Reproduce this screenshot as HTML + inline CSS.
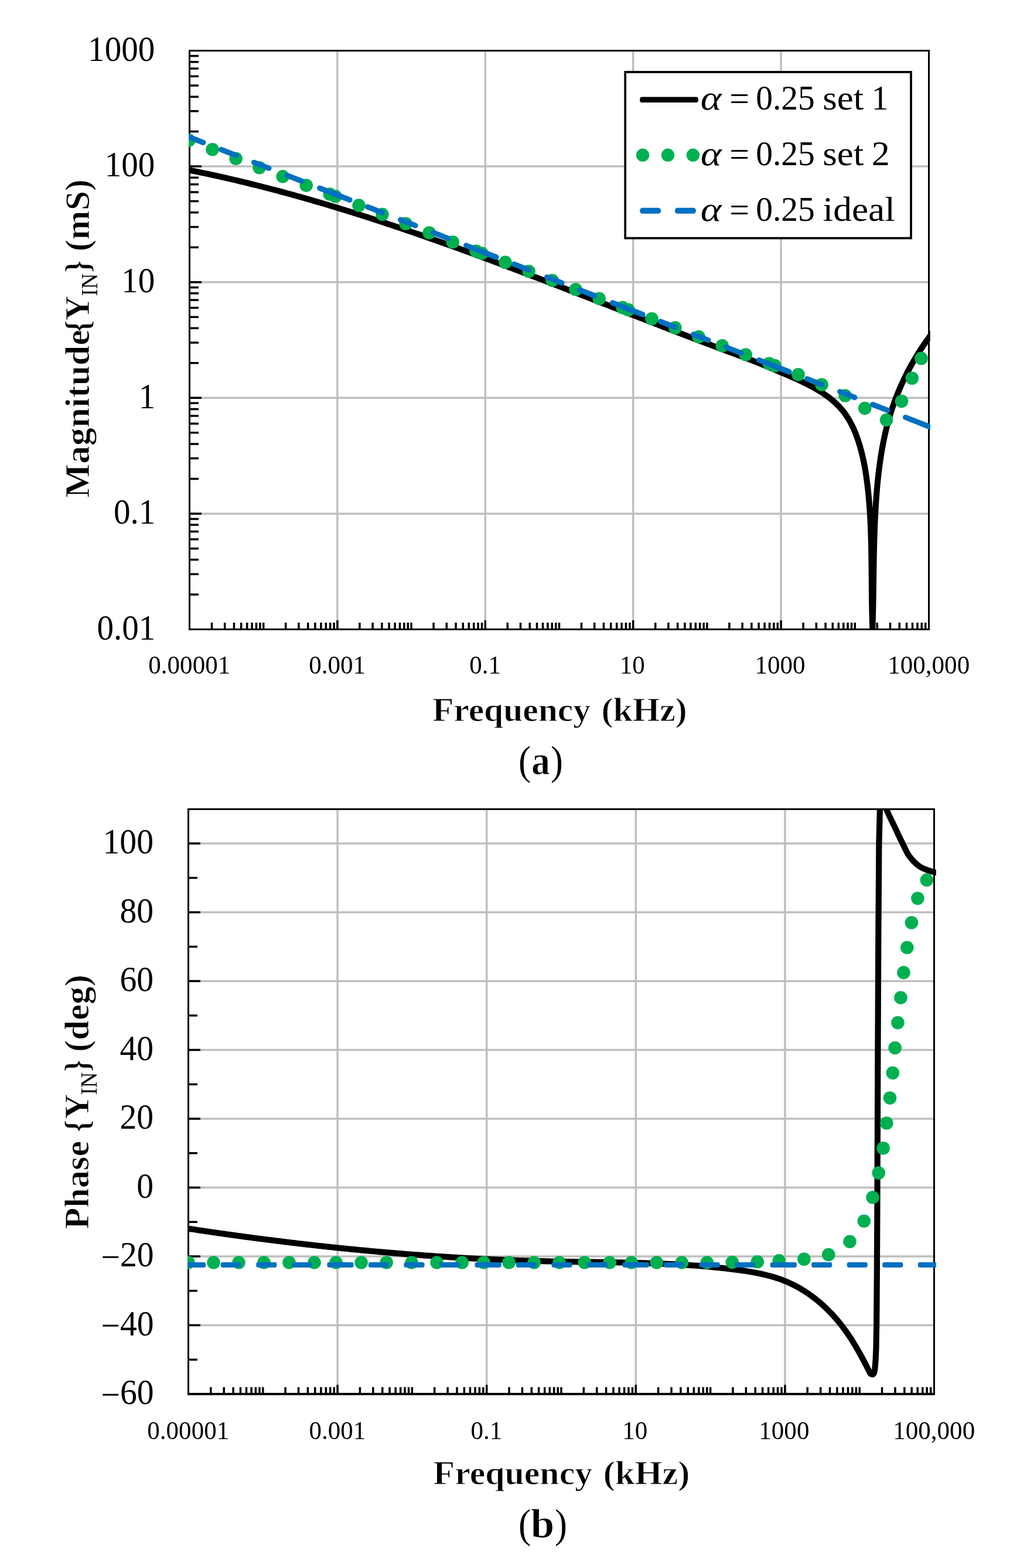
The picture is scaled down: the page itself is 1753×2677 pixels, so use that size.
<!DOCTYPE html>
<html lang="en"><head><meta charset="utf-8"><title>Magnitude and phase of Y_IN versus frequency</title>
<style>html,body{margin:0;padding:0;background:#fff}body{width:1753px;height:2677px;overflow:hidden}svg{display:block;font-family:"Liberation Serif","DejaVu Serif",serif;fill:#000}</style>
</head><body>
<svg width="1753" height="2677" viewBox="0 0 1753 2677">
<rect width="1753" height="2677" fill="#fff"/>
<defs><clipPath id="c1"><rect x="322" y="85" width="1265.8" height="991"/></clipPath>
<clipPath id="c2"><rect x="320" y="1380" width="1277.8" height="1002"/></clipPath></defs>
<g id="plot-a">
<path d="M323.5 284.1H1585.5M323.5 481.7H1585.5M323.5 679.3H1585.5M323.5 876.9H1585.5M575.9 86.5V1074.5M828.3 86.5V1074.5M1080.7 86.5V1074.5M1333.1 86.5V1074.5" stroke="#bfbfbf" stroke-width="3.5" fill="none"/>
<path d="M325 224.62H339M325 189.82H339M325 165.13H339M325 145.98H339M325 130.34H339M325 117.11H339M325 105.65H339M325 95.54H339M325 284.1H344M325 422.22H339M325 387.42H339M325 362.73H339M325 343.58H339M325 327.94H339M325 314.71H339M325 303.25H339M325 293.14H339M325 481.7H344M325 619.82H339M325 585.02H339M325 560.33H339M325 541.18H339M325 525.54H339M325 512.31H339M325 500.85H339M325 490.74H339M325 679.3H344M325 817.42H339M325 782.62H339M325 757.93H339M325 738.78H339M325 723.14H339M325 709.91H339M325 698.45H339M325 688.34H339M325 876.9H344M325 1015.02H339M325 980.22H339M325 955.53H339M325 936.38H339M325 920.74H339M325 907.51H339M325 896.05H339M325 885.94H339M361.49 1073V1063M383.71 1073V1063M399.48 1073V1063M411.71 1073V1063M421.7 1073V1063M430.15 1073V1063M437.47 1073V1063M443.93 1073V1063M449.7 1073V1063M487.69 1073V1063M509.91 1073V1063M525.68 1073V1063M537.91 1073V1063M547.9 1073V1063M556.35 1073V1063M563.67 1073V1063M570.13 1073V1063M575.9 1073V1059M613.89 1073V1063M636.11 1073V1063M651.88 1073V1063M664.11 1073V1063M674.1 1073V1063M682.55 1073V1063M689.87 1073V1063M696.33 1073V1063M702.1 1073V1063M740.09 1073V1063M762.31 1073V1063M778.08 1073V1063M790.31 1073V1063M800.3 1073V1063M808.75 1073V1063M816.07 1073V1063M822.53 1073V1063M828.3 1073V1059M866.29 1073V1063M888.51 1073V1063M904.28 1073V1063M916.51 1073V1063M926.5 1073V1063M934.95 1073V1063M942.27 1073V1063M948.73 1073V1063M954.5 1073V1063M992.49 1073V1063M1014.71 1073V1063M1030.48 1073V1063M1042.71 1073V1063M1052.7 1073V1063M1061.15 1073V1063M1068.47 1073V1063M1074.93 1073V1063M1080.7 1073V1059M1118.69 1073V1063M1140.91 1073V1063M1156.68 1073V1063M1168.91 1073V1063M1178.9 1073V1063M1187.35 1073V1063M1194.67 1073V1063M1201.13 1073V1063M1206.9 1073V1063M1244.89 1073V1063M1267.11 1073V1063M1282.88 1073V1063M1295.11 1073V1063M1305.1 1073V1063M1313.55 1073V1063M1320.87 1073V1063M1327.33 1073V1063M1333.1 1073V1059M1371.09 1073V1063M1393.31 1073V1063M1409.08 1073V1063M1421.31 1073V1063M1431.3 1073V1063M1439.75 1073V1063M1447.07 1073V1063M1453.53 1073V1063M1459.3 1073V1063M1497.29 1073V1063M1519.51 1073V1063M1535.28 1073V1063M1547.51 1073V1063M1557.5 1073V1063M1565.95 1073V1063M1573.27 1073V1063M1579.73 1073V1063" stroke="#000" stroke-width="3.5" fill="none"/>
<rect x="323.5" y="86.5" width="1262" height="988" fill="none" stroke="#000" stroke-width="3"/>
<g clip-path="url(#c1)" fill="none">
<path d="M299.75 285.95 L302.72 286.51 L305.69 287.07 L308.65 287.64 L311.62 288.21 L314.59 288.79 L317.55 289.36 L320.51 289.95 L323.47 290.53 L326.43 291.13 L329.39 291.72 L332.35 292.32 L335.31 292.92 L338.26 293.53 L341.22 294.14 L344.17 294.76 L347.12 295.37 L350.07 296 L353.02 296.62 L355.97 297.25 L358.92 297.89 L361.86 298.52 L364.81 299.17 L367.75 299.81 L370.7 300.46 L373.64 301.11 L376.58 301.77 L379.52 302.43 L382.46 303.09 L385.39 303.76 L388.33 304.43 L391.27 305.11 L394.2 305.79 L397.13 306.47 L400.07 307.15 L403 307.84 L405.93 308.54 L408.86 309.23 L411.78 309.93 L414.71 310.64 L417.64 311.34 L420.56 312.05 L423.48 312.77 L426.41 313.48 L429.33 314.21 L432.25 314.93 L435.17 315.66 L438.09 316.39 L441 317.12 L443.92 317.86 L446.84 318.6 L449.75 319.35 L452.66 320.09 L455.58 320.84 L458.49 321.6 L461.4 322.36 L464.31 323.12 L467.22 323.88 L470.12 324.65 L473.03 325.42 L475.94 326.19 L478.84 326.97 L481.75 327.75 L484.65 328.53 L487.55 329.32 L490.45 330.11 L493.35 330.9 L496.25 331.69 L499.15 332.49 L502.05 333.29 L504.94 334.1 L507.84 334.91 L510.73 335.72 L513.63 336.53 L516.52 337.35 L519.41 338.17 L522.3 338.99 L525.19 339.81 L528.08 340.64 L530.97 341.47 L533.86 342.31 L536.74 343.14 L539.63 343.98 L542.52 344.83 L545.4 345.67 L548.28 346.52 L551.16 347.37 L554.05 348.22 L556.93 349.08 L559.81 349.94 L562.69 350.8 L565.56 351.66 L568.44 352.53 L571.32 353.4 L574.19 354.27 L577.07 355.15 L579.94 356.03 L582.82 356.91 L585.69 357.79 L588.56 358.68 L591.43 359.56 L594.3 360.45 L597.17 361.35 L600.04 362.24 L602.91 363.14 L605.78 364.04 L608.64 364.94 L611.51 365.85 L614.37 366.76 L617.24 367.67 L620.1 368.58 L622.96 369.49 L625.83 370.41 L628.69 371.33 L631.55 372.25 L634.41 373.18 L637.27 374.1 L640.13 375.03 L642.98 375.97 L645.84 376.9 L648.7 377.83 L651.55 378.77 L654.41 379.71 L657.26 380.65 L660.12 381.6 L662.97 382.55 L665.82 383.49 L668.67 384.45 L671.53 385.4 L674.38 386.35 L677.23 387.31 L680.08 388.27 L682.92 389.23 L685.77 390.19 L688.62 391.16 L691.47 392.13 L694.31 393.1 L697.16 394.07 L700 395.04 L702.85 396.02 L705.69 396.99 L708.53 397.97 L711.37 398.95 L714.22 399.94 L717.06 400.92 L719.9 401.91 L722.74 402.9 L725.58 403.89 L728.42 404.88 L731.26 405.87 L734.09 406.87 L736.93 407.87 L739.77 408.86 L742.6 409.86 L745.44 410.87 L748.27 411.87 L751.11 412.88 L753.94 413.88 L756.78 414.89 L759.61 415.9 L762.44 416.92 L765.27 417.93 L768.11 418.95 L770.94 419.96 L773.77 420.98 L776.6 422 L779.43 423.02 L782.26 424.05 L785.08 425.07 L787.91 426.1 L790.74 427.12 L793.57 428.15 L796.39 429.18 L799.22 430.22 L802.05 431.25 L804.87 432.28 L807.7 433.32 L810.52 434.36 L813.34 435.39 L816.17 436.43 L818.99 437.48 L821.81 438.52 L824.64 439.56 L827.46 440.61 L830.28 441.65 L833.1 442.7 L835.92 443.75 L838.74 444.8 L841.56 445.85 L844.38 446.9 L847.2 447.95 L850.02 449.01 L852.84 450.06 L855.66 451.12 L858.47 452.18 L861.29 453.24 L864.11 454.3 L866.93 455.36 L869.74 456.42 L872.56 457.48 L875.37 458.55 L878.19 459.61 L881 460.68 L883.82 461.74 L886.63 462.81 L889.45 463.88 L892.26 464.95 L895.07 466.02 L897.89 467.09 L900.7 468.16 L903.51 469.23 L906.32 470.31 L909.14 471.38 L911.95 472.45 L914.76 473.53 L917.57 474.61 L920.38 475.68 L923.19 476.76 L926 477.84 L928.81 478.92 L931.62 480 L934.43 481.08 L937.24 482.16 L940.05 483.24 L942.86 484.33 L945.67 485.41 L948.48 486.49 L951.29 487.58 L954.09 488.66 L956.9 489.75 L959.71 490.83 L962.52 491.92 L965.32 493 L968.13 494.09 L970.94 495.18 L973.74 496.27 L976.55 497.35 L979.36 498.44 L982.16 499.53 L984.97 500.62 L987.78 501.71 L990.58 502.8 L993.39 503.89 L996.19 504.98 L999 506.07 L1001.8 507.17 L1004.61 508.26 L1007.41 509.35 L1010.22 510.44 L1013.02 511.53 L1015.83 512.63 L1018.63 513.72 L1021.44 514.81 L1024.24 515.9 L1027.04 517 L1029.85 518.09 L1032.65 519.18 L1035.46 520.28 L1038.26 521.37 L1041.06 522.46 L1043.87 523.56 L1046.67 524.65 L1049.48 525.74 L1052.28 526.84 L1055.08 527.93 L1057.89 529.02 L1060.69 530.12 L1063.49 531.21 L1066.3 532.3 L1069.1 533.4 L1071.9 534.49 L1074.71 535.58 L1077.51 536.68 L1080.31 537.77 L1083.12 538.86 L1085.92 539.95 L1088.72 541.04 L1091.52 542.14 L1094.33 543.23 L1097.13 544.32 L1099.93 545.41 L1102.74 546.5 L1105.54 547.59 L1108.34 548.68 L1111.15 549.77 L1113.95 550.86 L1116.76 551.95 L1119.56 553.03 L1122.36 554.12 L1125.17 555.21 L1127.97 556.3 L1130.77 557.38 L1133.58 558.47 L1136.38 559.56 L1139.19 560.64 L1141.99 561.73 L1144.79 562.81 L1147.6 563.89 L1150.4 564.98 L1153.21 566.06 L1156.01 567.14 L1158.82 568.22 L1161.62 569.3 L1164.43 570.38 L1167.23 571.46 L1170.04 572.54 L1172.84 573.62 L1175.65 574.69 L1178.46 575.77 L1181.26 576.84 L1184.07 577.92 L1186.88 578.99 L1189.69 580.06 L1192.5 581.13 L1195.3 582.2 L1198.11 583.27 L1200.92 584.33 L1203.73 585.4 L1206.55 586.46 L1209.36 587.53 L1212.17 588.59 L1214.98 589.65 L1217.8 590.71 L1220.61 591.77 L1223.43 592.82 L1226.24 593.88 L1229.06 594.93 L1231.88 595.98 L1234.69 597.03 L1237.51 598.08 L1240.33 599.13 L1243.15 600.17 L1245.97 601.21 L1248.8 602.25 L1251.62 603.29 L1254.44 604.33 L1257.27 605.37 L1260.09 606.41 L1262.91 607.45 L1265.73 608.49 L1268.55 609.53 L1271.36 610.58 L1274.17 611.63 L1276.97 612.68 L1279.76 613.75 L1282.55 614.82 L1285.33 615.9 L1288.1 616.98 L1290.87 618.08 L1293.63 619.18 L1296.38 620.29 L1299.12 621.41 L1301.87 622.54 L1304.61 623.67 L1307.35 624.81 L1310.09 625.95 L1312.83 627.11 L1315.57 628.26 L1318.32 629.42 L1321.07 630.59 L1323.82 631.76 L1326.58 632.93 L1329.35 634.11 L1332.12 635.29 L1334.91 636.48 L1337.7 637.67 L1340.5 638.86 L1343.3 640.06 L1346.1 641.27 L1348.91 642.48 L1351.72 643.71 L1354.52 644.94 L1357.33 646.19 L1360.13 647.45 L1362.92 648.73 L1365.71 650.02 L1368.49 651.33 L1371.25 652.65 L1374.01 653.99 L1376.75 655.35 L1379.48 656.74 L1382.19 658.14 L1384.89 659.57 L1387.56 661.02 L1390.22 662.5 L1392.85 664 L1395.46 665.53 L1398.04 667.09 L1400.6 668.68 L1403.13 670.3 L1405.63 671.95 L1408.09 673.63 L1410.53 675.35 L1412.93 677.1 L1415.3 678.89 L1417.63 680.72 L1419.92 682.59 L1422.17 684.49 L1424.38 686.44 L1426.54 688.43 L1428.66 690.46 L1430.74 692.53 L1432.77 694.65 L1434.75 696.82 L1436.67 699.04 L1438.55 701.3 L1440.37 703.61 L1442.14 705.98 L1443.86 708.39 L1445.51 710.85 L1447.12 713.36 L1448.68 715.91 L1450.18 718.5 L1451.64 721.13 L1453.04 723.79 L1454.4 726.49 L1455.72 729.23 L1456.99 731.99 L1458.21 734.78 L1459.39 737.59 L1460.54 740.42 L1461.64 743.28 L1462.7 746.15 L1463.73 749.04 L1464.71 751.94 L1465.67 754.86 L1466.59 757.78 L1467.47 760.71 L1468.32 763.64 L1469.15 766.57 L1469.94 769.51 L1470.7 772.45 L1471.43 775.39 L1472.14 778.34 L1472.82 781.28 L1473.47 784.23 L1474.1 787.18 L1474.7 790.13 L1475.28 793.08 L1475.84 796.04 L1476.37 799 L1476.88 801.96 L1477.38 804.92 L1477.85 807.88 L1478.3 810.84 L1478.74 813.81 L1479.16 816.78 L1479.56 819.75 L1479.95 822.72 L1480.33 825.69 L1480.69 828.67 L1481.03 831.64 L1481.37 834.62 L1481.69 837.6 L1482 840.58 L1482.3 843.57 L1482.59 846.55 L1482.87 849.53 L1483.13 852.52 L1483.39 855.51 L1483.63 858.5 L1483.87 861.49 L1484.1 864.48 L1484.31 867.47 L1484.52 870.47 L1484.72 873.46 L1484.91 876.46 L1485.09 879.46 L1485.26 882.45 L1485.43 885.45 L1485.59 888.45 L1485.73 891.45 L1485.88 894.46 L1486.01 897.46 L1486.14 900.46 L1486.26 903.47 L1486.37 906.47 L1486.48 909.48 L1486.58 912.49 L1486.68 915.49 L1486.77 918.5 L1486.85 921.51 L1486.93 924.52 L1487.01 927.53 L1487.08 930.54 L1487.14 933.55 L1487.2 936.56 L1487.26 939.57 L1487.31 942.58 L1487.36 945.6 L1487.41 948.61 L1487.45 951.62 L1487.5 954.63 L1487.53 957.65 L1487.57 960.66 L1487.6 963.67 L1487.63 966.69 L1487.66 969.7 L1487.69 972.72 L1487.72 975.73 L1487.75 978.74 L1487.77 981.76 L1487.8 984.77 L1487.82 987.78 L1487.84 990.8 L1487.87 993.81 L1487.89 996.82 L1487.92 999.84 L1487.95 1002.85 L1487.97 1005.86 L1488 1008.87 L1488.03 1011.88 L1488.06 1014.89 L1488.1 1017.9 L1488.13 1020.91 L1488.17 1023.92 L1488.21 1026.93 L1488.26 1029.94 L1488.3 1032.95 L1488.35 1035.96 L1488.41 1038.96 L1488.46 1041.97 L1488.53 1044.97 L1488.59 1047.98 L1488.66 1050.98 L1488.74 1053.98 L1488.82 1056.98 L1488.9 1059.98 L1488.99 1062.98 L1489.09 1065.98 L1489.19 1068.98 L1489.3 1071.98 L1489.41 1074.97 L1489.54 1077.97 L1489.1 1077.98 L1489.21 1074.96 L1489.32 1071.94 L1489.41 1068.92 L1489.51 1065.89 L1489.6 1062.87 L1489.68 1059.85 L1489.77 1056.82 L1489.85 1053.8 L1489.92 1050.78 L1489.99 1047.75 L1490.06 1044.73 L1490.13 1041.71 L1490.19 1038.68 L1490.26 1035.66 L1490.31 1032.64 L1490.37 1029.61 L1490.43 1026.59 L1490.48 1023.57 L1490.53 1020.54 L1490.58 1017.52 L1490.63 1014.49 L1490.67 1011.47 L1490.72 1008.45 L1490.76 1005.42 L1490.81 1002.4 L1490.85 999.38 L1490.89 996.35 L1490.94 993.33 L1490.98 990.31 L1491.02 987.28 L1491.06 984.26 L1491.11 981.24 L1491.15 978.21 L1491.19 975.19 L1491.24 972.17 L1491.28 969.14 L1491.33 966.12 L1491.38 963.1 L1491.43 960.07 L1491.48 957.05 L1491.54 954.03 L1491.59 951 L1491.65 947.98 L1491.71 944.96 L1491.77 941.93 L1491.84 938.91 L1491.91 935.89 L1491.98 932.86 L1492.05 929.84 L1492.13 926.82 L1492.21 923.8 L1492.3 920.77 L1492.39 917.75 L1492.48 914.73 L1492.58 911.71 L1492.68 908.68 L1492.78 905.66 L1492.89 902.64 L1493.01 899.62 L1493.13 896.6 L1493.26 893.57 L1493.39 890.55 L1493.52 887.53 L1493.66 884.51 L1493.81 881.49 L1493.96 878.47 L1494.12 875.44 L1494.29 872.42 L1494.46 869.4 L1494.64 866.38 L1494.83 863.36 L1495.02 860.34 L1495.22 857.32 L1495.43 854.3 L1495.64 851.28 L1495.86 848.26 L1496.09 845.24 L1496.33 842.22 L1496.58 839.2 L1496.83 836.18 L1497.09 833.16 L1497.36 830.14 L1497.64 827.12 L1497.93 824.1 L1498.23 821.08 L1498.54 818.07 L1498.86 815.05 L1499.19 812.03 L1499.52 809.02 L1499.87 806.01 L1500.24 802.99 L1500.61 799.98 L1500.99 796.98 L1501.39 793.97 L1501.8 790.96 L1502.22 787.96 L1502.65 784.96 L1503.1 781.96 L1503.56 778.97 L1504.03 775.98 L1504.52 772.99 L1505.02 770 L1505.54 767.02 L1506.07 764.04 L1506.61 761.06 L1507.18 758.09 L1507.75 755.12 L1508.35 752.15 L1508.96 749.19 L1509.58 746.23 L1510.23 743.28 L1510.89 740.33 L1511.57 737.39 L1512.26 734.45 L1512.98 731.52 L1513.71 728.59 L1514.46 725.67 L1515.23 722.75 L1516.02 719.84 L1516.83 716.93 L1517.65 714.03 L1518.5 711.13 L1519.37 708.25 L1520.26 705.36 L1521.17 702.49 L1522.1 699.62 L1523.05 696.75 L1524.02 693.9 L1525.01 691.05 L1526.02 688.21 L1527.04 685.37 L1528.09 682.54 L1529.16 679.72 L1530.25 676.91 L1531.36 674.1 L1532.49 671.3 L1533.63 668.51 L1534.8 665.73 L1535.99 662.95 L1537.19 660.18 L1538.42 657.42 L1539.66 654.67 L1540.92 651.93 L1542.2 649.19 L1543.5 646.47 L1544.82 643.75 L1546.16 641.04 L1547.52 638.34 L1548.89 635.64 L1550.29 632.96 L1551.7 630.29 L1553.13 627.62 L1554.58 624.97 L1556.05 622.32 L1557.53 619.68 L1559.04 617.06 L1560.56 614.44 L1562.1 611.83 L1563.65 609.23 L1565.23 606.65 L1566.82 604.07 L1568.43 601.5 L1570.06 598.94 L1571.71 596.4 L1573.37 593.86 L1575.05 591.33 L1576.75 588.82 L1578.47 586.31 L1580.2 583.82 L1581.95 581.34 L1583.72 578.87 L1585.5 576.41 L1587.3 573.96 L1589.12 571.52 L1590.95 569.09 L1592.8 566.68 L1594.67 564.27 L1596.55 561.88 L1598.45 559.5 L1600.36 557.13" stroke="#000" stroke-width="10.2" stroke-linejoin="round"/>
<g fill="#00b050"><circle cx="322.5" cy="239.61" r="11.3"/><circle cx="362.54" cy="255.18" r="11.3"/><circle cx="402.58" cy="270.76" r="11.3"/><circle cx="442.62" cy="286.32" r="11.3"/><circle cx="482.66" cy="301.38" r="11.3"/><circle cx="522.7" cy="316.44" r="11.3"/><circle cx="562.74" cy="331.51" r="11.3"/><circle cx="572.5" cy="335.18" r="11.3"/><circle cx="612.54" cy="350.64" r="11.3"/><circle cx="652.58" cy="366.12" r="11.3"/><circle cx="692.62" cy="381.82" r="11.3"/><circle cx="732.66" cy="397.53" r="11.3"/><circle cx="772.7" cy="413.23" r="11.3"/><circle cx="812.74" cy="428.68" r="11.3"/><circle cx="822.5" cy="432.45" r="11.3"/><circle cx="862.54" cy="447.89" r="11.3"/><circle cx="902.58" cy="463.34" r="11.3"/><circle cx="942.62" cy="478.79" r="11.3"/><circle cx="982.66" cy="494.24" r="11.3"/><circle cx="1022.7" cy="509.69" r="11.3"/><circle cx="1062.74" cy="525.14" r="11.3"/><circle cx="1072.5" cy="528.91" r="11.3"/><circle cx="1112.54" cy="544.36" r="11.3"/><circle cx="1152.58" cy="559.66" r="11.3"/><circle cx="1192.62" cy="574.95" r="11.3"/><circle cx="1232.66" cy="590.25" r="11.3"/><circle cx="1272.7" cy="605.55" r="11.3"/><circle cx="1312.74" cy="620.69" r="11.3"/><circle cx="1322.5" cy="624.38" r="11.3"/><circle cx="1362.54" cy="639.54" r="11.3"/><circle cx="1402.58" cy="656.72" r="11.3"/><circle cx="1442.62" cy="675.47" r="11.3"/><circle cx="1476.2" cy="697.1" r="11.3"/><circle cx="1513" cy="717" r="11.3"/><circle cx="1539" cy="685.1" r="11.3"/><circle cx="1556.8" cy="645.8" r="11.3"/><circle cx="1572.5" cy="611.9" r="11.3"/></g>
<g fill="#0070c0"><rect x="0" y="-4.6" width="36.4" height="9.2" rx="4.6" transform="translate(317.3,231.77) rotate(21.377)"/><rect x="0" y="-4.6" width="36.4" height="9.2" rx="4.6" transform="translate(373.3,253.69) rotate(21.377)"/><rect x="0" y="-4.6" width="36.4" height="9.2" rx="4.6" transform="translate(429.3,275.61) rotate(21.377)"/><rect x="0" y="-4.6" width="36.4" height="9.2" rx="4.6" transform="translate(485.3,297.54) rotate(21.377)"/><rect x="0" y="-4.6" width="64.32" height="9.2" rx="4.6" transform="translate(541.3,319.46) rotate(21.377)"/><rect x="0" y="-4.6" width="36.4" height="9.2" rx="4.6" transform="translate(567.3,329.63) rotate(21.377)"/><rect x="0" y="-4.6" width="36.4" height="9.2" rx="4.6" transform="translate(623.3,351.55) rotate(21.377)"/><rect x="0" y="-4.6" width="36.4" height="9.2" rx="4.6" transform="translate(679.3,373.48) rotate(21.377)"/><rect x="0" y="-4.6" width="36.4" height="9.2" rx="4.6" transform="translate(735.3,395.4) rotate(21.377)"/><rect x="0" y="-4.6" width="64.32" height="9.2" rx="4.6" transform="translate(791.3,417.32) rotate(21.377)"/><rect x="0" y="-4.6" width="36.4" height="9.2" rx="4.6" transform="translate(817.3,427.49) rotate(21.377)"/><rect x="0" y="-4.6" width="36.4" height="9.2" rx="4.6" transform="translate(873.3,449.41) rotate(21.377)"/><rect x="0" y="-4.6" width="36.4" height="9.2" rx="4.6" transform="translate(929.3,471.34) rotate(21.377)"/><rect x="0" y="-4.6" width="36.4" height="9.2" rx="4.6" transform="translate(985.3,493.26) rotate(21.377)"/><rect x="0" y="-4.6" width="64.32" height="9.2" rx="4.6" transform="translate(1041.3,515.18) rotate(21.377)"/><rect x="0" y="-4.6" width="36.4" height="9.2" rx="4.6" transform="translate(1067.3,525.35) rotate(21.377)"/><rect x="0" y="-4.6" width="36.4" height="9.2" rx="4.6" transform="translate(1123.3,547.28) rotate(21.377)"/><rect x="0" y="-4.6" width="36.4" height="9.2" rx="4.6" transform="translate(1179.3,569.2) rotate(21.377)"/><rect x="0" y="-4.6" width="36.4" height="9.2" rx="4.6" transform="translate(1235.3,591.12) rotate(21.377)"/><rect x="0" y="-4.6" width="64.32" height="9.2" rx="4.6" transform="translate(1291.3,613.04) rotate(21.377)"/><rect x="0" y="-4.6" width="36.4" height="9.2" rx="4.6" transform="translate(1317.3,623.22) rotate(21.377)"/><rect x="0" y="-4.6" width="36.4" height="9.2" rx="4.6" transform="translate(1373.3,645.14) rotate(21.377)"/><rect x="0" y="-4.6" width="36.4" height="9.2" rx="4.6" transform="translate(1429.3,667.06) rotate(21.377)"/><rect x="0" y="-4.6" width="36.4" height="9.2" rx="4.6" transform="translate(1485.3,688.98) rotate(21.377)"/><rect x="0" y="-4.6" width="64.32" height="9.2" rx="4.6" transform="translate(1541.3,710.9) rotate(21.377)"/><rect x="0" y="-4.6" width="36.4" height="9.2" rx="4.6" transform="translate(1567.3,721.08) rotate(21.377)"/></g>
</g>
<text transform="translate(150.1,103.7) scale(1.02,1.075)" font-size="56">1000</text>
<text transform="translate(178.66,301.3) scale(1.02,1.075)" font-size="56">100</text>
<text transform="translate(207.22,498.9) scale(1.02,1.075)" font-size="56">10</text>
<text transform="translate(236.8,696.5) scale(1.02,1.075)" font-size="56">1</text>
<text transform="translate(193.96,894.1) scale(1.02,1.075)" font-size="56">0.1</text>
<text transform="translate(165.4,1091.7) scale(1.02,1.075)" font-size="56">0.01</text>
<text transform="translate(253.3,1150.3) scale(1.025,1.07)" font-size="42">0.00001</text>
<text transform="translate(527.23,1150.3) scale(1.025,1.07)" font-size="42">0.001</text>
<text transform="translate(801.15,1150.3) scale(1.025,1.07)" font-size="42">0.1</text>
<text transform="translate(1057.65,1150.3) scale(1.025,1.07)" font-size="42">10</text>
<text transform="translate(1288.52,1150.3) scale(1.025,1.07)" font-size="42">1000</text>
<text transform="translate(1515.26,1150.3) scale(1.025,1.07)" font-size="42">100,000</text>
<text transform="translate(0,1230.8) scale(1,1.03)" font-size="56" font-weight="bold" stroke="#fff" stroke-width="0.9" paint-order="fill stroke"><tspan x="737.94" textLength="270.09" lengthAdjust="spacingAndGlyphs">Frequency</tspan> <tspan x="1026.46" textLength="146.19" lengthAdjust="spacingAndGlyphs">(kHz)</tspan></text>
<text transform="translate(151.8,848.8) rotate(-90) scale(1,1.04)" font-size="56"><tspan x="-1.1" textLength="287.39" lengthAdjust="spacingAndGlyphs" font-weight="bold" stroke="#fff" stroke-width="0.9" paint-order="fill stroke">Magnitude</tspan><tspan x="281.31" textLength="20.85" lengthAdjust="spacingAndGlyphs" font-weight="bold" stroke="#fff" stroke-width="0.9" paint-order="fill stroke">{</tspan><tspan x="301.66" textLength="42.26" lengthAdjust="spacingAndGlyphs" font-weight="bold" stroke="#fff" stroke-width="0.9" paint-order="fill stroke">Y</tspan><tspan x="343.34" textLength="38.63" lengthAdjust="spacingAndGlyphs" dy="13.37" font-size="38">IN</tspan><tspan x="383.41" textLength="20.85" lengthAdjust="spacingAndGlyphs" dy="-13.37" font-weight="bold" stroke="#fff" stroke-width="0.9" paint-order="fill stroke">}</tspan> <tspan x="419.76" textLength="122.87" lengthAdjust="spacingAndGlyphs" font-weight="bold" stroke="#fff" stroke-width="0.9" paint-order="fill stroke">(mS)</tspan></text>
<text transform="translate(0,1322) scale(1,1)" font-size="70"><tspan x="885.07" textLength="21.24" lengthAdjust="spacingAndGlyphs">(</tspan><tspan x="907.07" textLength="31.94" lengthAdjust="spacingAndGlyphs" font-weight="bold" stroke="#fff" stroke-width="0.9" paint-order="fill stroke">a</tspan><tspan x="940.1" textLength="20.98" lengthAdjust="spacingAndGlyphs">)</tspan></text>
<rect x="1067.2" y="123" width="487.8" height="283.6" fill="#fff" stroke="#000" stroke-width="3.75"/>
<rect x="1092.2" y="165.5" width="99.7" height="9.6" rx="3.6" fill="#000"/>
<g fill="#00b050"><circle cx="1097.1" cy="264.8" r="11.2"/><circle cx="1140" cy="264.8" r="11.2"/><circle cx="1182.9" cy="264.8" r="11.2"/></g>
<g fill="#0070c0"><rect x="1092.2" y="354.8" width="35.9" height="10" rx="4.5"/><rect x="1152" y="354.8" width="35.9" height="10" rx="4.5"/></g>
<text transform="translate(0,187.2) scale(1,1.04)" font-size="56"><tspan x="1195.76" textLength="35.81" lengthAdjust="spacingAndGlyphs" font-style="italic">α</tspan> <tspan x="1245.29" textLength="33.78" lengthAdjust="spacingAndGlyphs" dy="0.77">=</tspan> <tspan x="1290.15" textLength="100.61" lengthAdjust="spacingAndGlyphs" dy="-0.77">0.25</tspan> <tspan x="1404.35" textLength="69.89" lengthAdjust="spacingAndGlyphs">set</tspan> <tspan x="1487.62" textLength="28.98" lengthAdjust="spacingAndGlyphs">1</tspan></text>
<text transform="translate(0,282.4) scale(1,1.04)" font-size="56"><tspan x="1195.76" textLength="35.81" lengthAdjust="spacingAndGlyphs" font-style="italic">α</tspan> <tspan x="1245.29" textLength="33.78" lengthAdjust="spacingAndGlyphs" dy="0.77">=</tspan> <tspan x="1290.15" textLength="100.61" lengthAdjust="spacingAndGlyphs" dy="-0.77">0.25</tspan> <tspan x="1404.35" textLength="69.89" lengthAdjust="spacingAndGlyphs">set</tspan> <tspan x="1487.88" textLength="31.04" lengthAdjust="spacingAndGlyphs">2</tspan></text>
<text transform="translate(0,377.2) scale(1,1.04)" font-size="56"><tspan x="1195.76" textLength="35.81" lengthAdjust="spacingAndGlyphs" font-style="italic">α</tspan> <tspan x="1245.29" textLength="33.78" lengthAdjust="spacingAndGlyphs" dy="0.77">=</tspan> <tspan x="1290.15" textLength="100.61" lengthAdjust="spacingAndGlyphs" dy="-0.77">0.25</tspan> <tspan x="1404.57" textLength="123.37" lengthAdjust="spacingAndGlyphs">ideal</tspan></text>
</g>
<g id="plot-b">
<path d="M321.5 2262.5H1594.5M321.5 2145H1594.5M321.5 2027.5H1594.5M321.5 1910H1594.5M321.5 1792.5H1594.5M321.5 1675H1594.5M321.5 1557.5H1594.5M321.5 1440H1594.5M576.1 1381.5V2380M830.7 1381.5V2380M1085.3 1381.5V2380M1339.9 1381.5V2380" stroke="#bfbfbf" stroke-width="3.5" fill="none"/>
<path d="M323 2321.25H337M323 2262.5H342M323 2203.75H337M323 2145H342M323 2086.25H337M323 2027.5H342M323 1968.75H337M323 1910H342M323 1851.25H337M323 1792.5H342M323 1733.75H337M323 1675H342M323 1616.25H337M323 1557.5H342M323 1498.75H337M323 1440H342M359.82 2378.25V2368.25M382.24 2378.25V2368.25M398.14 2378.25V2368.25M410.48 2378.25V2368.25M420.56 2378.25V2368.25M429.08 2378.25V2368.25M436.46 2378.25V2368.25M442.98 2378.25V2368.25M448.8 2378.25V2368.25M487.12 2378.25V2368.25M509.54 2378.25V2368.25M525.44 2378.25V2368.25M537.78 2378.25V2368.25M547.86 2378.25V2368.25M556.38 2378.25V2368.25M563.76 2378.25V2368.25M570.28 2378.25V2368.25M576.1 2378.25V2364.25M614.42 2378.25V2368.25M636.84 2378.25V2368.25M652.74 2378.25V2368.25M665.08 2378.25V2368.25M675.16 2378.25V2368.25M683.68 2378.25V2368.25M691.06 2378.25V2368.25M697.58 2378.25V2368.25M703.4 2378.25V2368.25M741.72 2378.25V2368.25M764.14 2378.25V2368.25M780.04 2378.25V2368.25M792.38 2378.25V2368.25M802.46 2378.25V2368.25M810.98 2378.25V2368.25M818.36 2378.25V2368.25M824.88 2378.25V2368.25M830.7 2378.25V2364.25M869.02 2378.25V2368.25M891.44 2378.25V2368.25M907.34 2378.25V2368.25M919.68 2378.25V2368.25M929.76 2378.25V2368.25M938.28 2378.25V2368.25M945.66 2378.25V2368.25M952.18 2378.25V2368.25M958 2378.25V2368.25M996.32 2378.25V2368.25M1018.74 2378.25V2368.25M1034.64 2378.25V2368.25M1046.98 2378.25V2368.25M1057.06 2378.25V2368.25M1065.58 2378.25V2368.25M1072.96 2378.25V2368.25M1079.48 2378.25V2368.25M1085.3 2378.25V2364.25M1123.62 2378.25V2368.25M1146.04 2378.25V2368.25M1161.94 2378.25V2368.25M1174.28 2378.25V2368.25M1184.36 2378.25V2368.25M1192.88 2378.25V2368.25M1200.26 2378.25V2368.25M1206.78 2378.25V2368.25M1212.6 2378.25V2368.25M1250.92 2378.25V2368.25M1273.34 2378.25V2368.25M1289.24 2378.25V2368.25M1301.58 2378.25V2368.25M1311.66 2378.25V2368.25M1320.18 2378.25V2368.25M1327.56 2378.25V2368.25M1334.08 2378.25V2368.25M1339.9 2378.25V2364.25M1378.22 2378.25V2368.25M1400.64 2378.25V2368.25M1416.54 2378.25V2368.25M1428.88 2378.25V2368.25M1438.96 2378.25V2368.25M1447.48 2378.25V2368.25M1454.86 2378.25V2368.25M1461.38 2378.25V2368.25M1467.2 2378.25V2368.25M1505.52 2378.25V2368.25M1527.94 2378.25V2368.25M1543.84 2378.25V2368.25M1556.18 2378.25V2368.25M1566.26 2378.25V2368.25M1574.78 2378.25V2368.25M1582.16 2378.25V2368.25M1588.68 2378.25V2368.25" stroke="#000" stroke-width="3.5" fill="none"/>
<path d="M321.5 1381.5V2379.75H1594.5V1381.5Z" fill="none" stroke="#000" stroke-width="3"/>
<path d="M320 2380H1596" fill="none" stroke="#000" stroke-width="4"/>
<g clip-path="url(#c2)" fill="none">
<path d="M300 2094.24 L302.96 2094.71 L305.93 2095.17 L308.9 2095.63 L311.87 2096.09 L314.84 2096.55 L317.81 2097.01 L320.78 2097.46 L323.75 2097.92 L326.72 2098.37 L329.69 2098.82 L332.66 2099.27 L335.63 2099.72 L338.6 2100.17 L341.57 2100.61 L344.55 2101.05 L347.52 2101.49 L350.49 2101.93 L353.47 2102.37 L356.44 2102.81 L359.42 2103.24 L362.39 2103.68 L365.36 2104.11 L368.34 2104.54 L371.32 2104.97 L374.29 2105.39 L377.27 2105.82 L380.24 2106.24 L383.22 2106.67 L386.2 2107.09 L389.18 2107.51 L392.15 2107.92 L395.13 2108.34 L398.11 2108.75 L401.09 2109.16 L404.07 2109.57 L407.05 2109.98 L410.03 2110.39 L413.01 2110.8 L415.99 2111.2 L418.97 2111.6 L421.95 2112 L424.93 2112.4 L427.91 2112.8 L430.9 2113.19 L433.88 2113.59 L436.86 2113.98 L439.84 2114.37 L442.83 2114.76 L445.81 2115.15 L448.79 2115.53 L451.78 2115.92 L454.76 2116.3 L457.75 2116.68 L460.73 2117.06 L463.72 2117.43 L466.7 2117.81 L469.69 2118.18 L472.67 2118.55 L475.66 2118.92 L478.65 2119.29 L481.63 2119.66 L484.62 2120.02 L487.61 2120.39 L490.59 2120.75 L493.58 2121.11 L496.57 2121.47 L499.56 2121.82 L502.55 2122.18 L505.54 2122.53 L508.53 2122.88 L511.51 2123.23 L514.5 2123.58 L517.49 2123.92 L520.48 2124.27 L523.47 2124.61 L526.46 2124.95 L529.46 2125.29 L532.45 2125.62 L535.44 2125.96 L538.43 2126.29 L541.42 2126.62 L544.41 2126.95 L547.4 2127.28 L550.4 2127.61 L553.39 2127.93 L556.38 2128.25 L559.38 2128.57 L562.37 2128.89 L565.36 2129.21 L568.36 2129.52 L571.35 2129.84 L574.34 2130.15 L577.34 2130.46 L580.33 2130.76 L583.33 2131.07 L586.32 2131.37 L589.32 2131.68 L592.31 2131.98 L595.31 2132.28 L598.3 2132.57 L601.3 2132.87 L604.29 2133.16 L607.29 2133.45 L610.29 2133.74 L613.28 2134.03 L616.28 2134.31 L619.28 2134.6 L622.27 2134.88 L625.27 2135.16 L628.27 2135.44 L631.27 2135.71 L634.26 2135.99 L637.26 2136.26 L640.26 2136.53 L643.26 2136.8 L646.26 2137.06 L649.26 2137.33 L652.25 2137.59 L655.25 2137.85 L658.25 2138.11 L661.25 2138.37 L664.25 2138.62 L667.25 2138.88 L670.25 2139.13 L673.25 2139.38 L676.25 2139.63 L679.25 2139.87 L682.25 2140.12 L685.25 2140.36 L688.25 2140.6 L691.25 2140.83 L694.25 2141.07 L697.25 2141.3 L700.25 2141.54 L703.25 2141.77 L706.26 2141.99 L709.26 2142.22 L712.26 2142.44 L715.26 2142.67 L718.26 2142.89 L721.26 2143.11 L724.27 2143.32 L727.27 2143.54 L730.27 2143.75 L733.27 2143.96 L736.28 2144.17 L739.28 2144.37 L742.28 2144.58 L745.28 2144.78 L748.29 2144.98 L751.29 2145.18 L754.29 2145.37 L757.29 2145.57 L760.3 2145.76 L763.3 2145.95 L766.3 2146.14 L769.31 2146.33 L772.31 2146.51 L775.31 2146.69 L778.32 2146.87 L781.32 2147.05 L784.33 2147.23 L787.33 2147.4 L790.33 2147.57 L793.34 2147.74 L796.34 2147.91 L799.35 2148.08 L802.35 2148.24 L805.35 2148.4 L808.36 2148.56 L811.36 2148.72 L814.37 2148.87 L817.37 2149.03 L820.38 2149.18 L823.38 2149.33 L826.39 2149.48 L829.39 2149.62 L832.4 2149.76 L835.4 2149.9 L838.4 2150.04 L841.41 2150.18 L844.41 2150.31 L847.42 2150.45 L850.42 2150.58 L853.43 2150.71 L856.43 2150.83 L859.44 2150.96 L862.44 2151.08 L865.45 2151.2 L868.45 2151.32 L871.46 2151.43 L874.47 2151.55 L877.47 2151.66 L880.48 2151.77 L883.48 2151.87 L886.49 2151.98 L889.49 2152.08 L892.5 2152.18 L895.5 2152.28 L898.51 2152.38 L901.51 2152.47 L904.52 2152.56 L907.52 2152.65 L910.53 2152.74 L913.53 2152.83 L916.54 2152.91 L919.54 2152.99 L922.55 2153.07 L925.55 2153.15 L928.56 2153.22 L931.56 2153.29 L934.57 2153.36 L937.57 2153.43 L940.58 2153.5 L943.58 2153.56 L946.59 2153.62 L949.59 2153.68 L952.6 2153.74 L955.6 2153.8 L958.61 2153.85 L961.61 2153.9 L964.62 2153.95 L967.62 2154 L970.63 2154.05 L973.63 2154.1 L976.64 2154.15 L979.64 2154.19 L982.65 2154.24 L985.65 2154.28 L988.66 2154.32 L991.66 2154.37 L994.67 2154.41 L997.67 2154.45 L1000.68 2154.49 L1003.68 2154.53 L1006.69 2154.57 L1009.69 2154.61 L1012.7 2154.66 L1015.7 2154.7 L1018.71 2154.74 L1021.71 2154.78 L1024.72 2154.82 L1027.72 2154.87 L1030.73 2154.91 L1033.73 2154.96 L1036.74 2155 L1039.74 2155.05 L1042.75 2155.1 L1045.75 2155.15 L1048.76 2155.2 L1051.76 2155.25 L1054.77 2155.31 L1057.77 2155.36 L1060.78 2155.42 L1063.78 2155.48 L1066.79 2155.54 L1069.79 2155.6 L1072.8 2155.67 L1075.8 2155.73 L1078.81 2155.8 L1081.81 2155.88 L1084.82 2155.95 L1087.82 2156.03 L1090.83 2156.11 L1093.84 2156.19 L1096.84 2156.28 L1099.85 2156.37 L1102.85 2156.46 L1105.86 2156.55 L1108.86 2156.65 L1111.87 2156.76 L1114.88 2156.86 L1117.88 2156.97 L1120.89 2157.08 L1123.89 2157.2 L1126.9 2157.32 L1129.91 2157.45 L1132.91 2157.58 L1135.92 2157.71 L1138.93 2157.85 L1141.93 2157.99 L1144.94 2158.14 L1147.95 2158.29 L1150.95 2158.45 L1153.96 2158.61 L1156.97 2158.77 L1159.97 2158.95 L1162.98 2159.12 L1165.99 2159.3 L1169 2159.49 L1172 2159.68 L1175.01 2159.88 L1178.02 2160.09 L1181.03 2160.3 L1184.03 2160.51 L1187.04 2160.73 L1190.05 2160.96 L1193.06 2161.19 L1196.06 2161.43 L1199.07 2161.68 L1202.08 2161.93 L1205.09 2162.19 L1208.1 2162.46 L1211.11 2162.73 L1214.12 2163.01 L1217.12 2163.3 L1220.13 2163.59 L1223.14 2163.89 L1226.15 2164.2 L1229.16 2164.52 L1232.17 2164.84 L1235.18 2165.17 L1238.19 2165.51 L1241.2 2165.86 L1244.21 2166.21 L1247.22 2166.57 L1250.23 2166.94 L1253.24 2167.32 L1256.25 2167.71 L1259.26 2168.1 L1262.27 2168.51 L1265.28 2168.93 L1268.28 2169.36 L1271.28 2169.8 L1274.28 2170.26 L1277.28 2170.73 L1280.27 2171.23 L1283.25 2171.74 L1286.23 2172.26 L1289.21 2172.81 L1292.17 2173.39 L1295.13 2173.98 L1298.08 2174.6 L1301.02 2175.24 L1303.96 2175.91 L1306.88 2176.61 L1309.79 2177.33 L1312.69 2178.08 L1315.58 2178.87 L1318.46 2179.69 L1321.32 2180.54 L1324.17 2181.42 L1327 2182.34 L1329.82 2183.29 L1332.63 2184.29 L1335.42 2185.32 L1338.19 2186.39 L1340.94 2187.5 L1343.68 2188.65 L1346.4 2189.85 L1349.1 2191.08 L1351.78 2192.36 L1354.45 2193.67 L1357.09 2195.02 L1359.72 2196.41 L1362.32 2197.84 L1364.91 2199.31 L1367.48 2200.81 L1370.03 2202.35 L1372.56 2203.93 L1375.07 2205.54 L1377.56 2207.18 L1380.02 2208.86 L1382.47 2210.57 L1384.9 2212.32 L1387.31 2214.1 L1389.69 2215.91 L1392.06 2217.75 L1394.4 2219.62 L1396.72 2221.53 L1399.02 2223.46 L1401.29 2225.42 L1403.55 2227.42 L1405.78 2229.44 L1407.99 2231.48 L1410.18 2233.56 L1412.34 2235.66 L1414.48 2237.79 L1416.6 2239.95 L1418.7 2242.13 L1420.77 2244.33 L1422.81 2246.56 L1424.84 2248.81 L1426.84 2251.09 L1428.81 2253.38 L1430.76 2255.7 L1432.68 2258.05 L1434.58 2260.41 L1436.46 2262.79 L1438.31 2265.2 L1440.13 2267.62 L1441.93 2270.06 L1443.71 2272.52 L1445.46 2275 L1447.18 2277.49 L1448.88 2280 L1450.56 2282.52 L1452.22 2285.06 L1453.86 2287.61 L1455.47 2290.18 L1457.07 2292.75 L1458.64 2295.34 L1460.2 2297.93 L1461.74 2300.53 L1463.26 2303.14 L1464.76 2305.76 L1466.25 2308.39 L1467.72 2311.02 L1469.18 2313.65 L1470.62 2316.29 L1472.04 2318.93 L1473.46 2321.58 L1474.85 2324.22 L1476.24 2326.87 L1477.62 2329.51 L1478.98 2332.16 L1480.34 2334.8 L1481.68 2337.44 L1483.01 2340.07 L1484.34 2342.7 L1485.66 2345.33 L1486.6 2345 L1488.6 2346.6 L1490.2 2346.4 L1491.6 2344.6 L1492.6 2341.5 L1493.4 2336.5 L1493.4 2336.5 L1494.6 2322 L1495.5 2300 L1496.2 2258 L1496.8 2180 L1497.4 2070 L1497.9 1935 L1498.4 1800 L1499.3 1600 L1500.4 1440 L1501.9 1383 L1503.2 1366 L1505.5 1360 L1505.5 1362 L1507.5 1367.47 L1509.5 1372.79 L1511.5 1377.9 L1513.5 1382.76 L1515.5 1387.36 L1517.5 1391.76 L1519.5 1395.99 L1521.5 1400.14 L1523.5 1404.24 L1525.5 1408.36 L1527.5 1412.55 L1529.5 1416.79 L1531.5 1421.06 L1533.5 1425.32 L1535.5 1429.55 L1537.5 1433.72 L1539.5 1437.8 L1541.5 1441.81 L1543.5 1445.94 L1545.5 1450.09 L1547.5 1454.08 L1549.5 1457.74 L1551.5 1460.88 L1553.5 1463.5 L1555.5 1465.97 L1557.5 1468.3 L1559.5 1470.5 L1561.5 1472.54 L1563.5 1474.44 L1565.5 1476.18 L1567.5 1477.75 L1569.5 1479.16 L1571.5 1480.39 L1573.5 1481.46 L1575.5 1482.44 L1577.5 1483.33 L1579.5 1484.15 L1581.5 1484.9 L1583.5 1485.61 L1585.5 1486.28 L1587.5 1486.92 L1589.5 1487.54 L1591.5 1488.14 L1593.5 1488.7 L1595.5 1489.2 L1597.5 1489.64 L1599.5 1490.02 L1601.5 1490.39 L1603.5 1490.73 L1605.5 1491.05 L1607.5 1491.33 L1609.5 1491.57 L1611.5 1491.76" stroke="#000" stroke-width="10.2" stroke-linejoin="round"/>
<g fill="#00b050"><circle cx="321.5" cy="2155.5" r="11.3"/><circle cx="364.5" cy="2155.5" r="11.3"/><circle cx="407.5" cy="2155.5" r="11.3"/><circle cx="450.5" cy="2155.5" r="11.3"/><circle cx="493.5" cy="2155.5" r="11.3"/><circle cx="536.5" cy="2155.5" r="11.3"/><circle cx="573.6" cy="2155.5" r="11.3"/><circle cx="616.6" cy="2155.5" r="11.3"/><circle cx="659.6" cy="2155.5" r="11.3"/><circle cx="702.6" cy="2155.5" r="11.3"/><circle cx="745.6" cy="2155.5" r="11.3"/><circle cx="788.6" cy="2155.5" r="11.3"/><circle cx="825.7" cy="2155.5" r="11.3"/><circle cx="868.7" cy="2155.5" r="11.3"/><circle cx="911.7" cy="2155.5" r="11.3"/><circle cx="954.7" cy="2155.5" r="11.3"/><circle cx="997.7" cy="2155.5" r="11.3"/><circle cx="1040.7" cy="2155.5" r="11.3"/><circle cx="1077.8" cy="2155.5" r="11.3"/><circle cx="1120.8" cy="2155.5" r="11.3"/><circle cx="1163.8" cy="2155.52" r="11.3"/><circle cx="1206.8" cy="2155.6" r="11.3"/><circle cx="1249.8" cy="2155.1" r="11.3"/><circle cx="1292.8" cy="2154.3" r="11.3"/><circle cx="1329.8" cy="2152.4" r="11.3"/><circle cx="1372.4" cy="2149.7" r="11.3"/><circle cx="1414.2" cy="2142.1" r="11.3"/><circle cx="1450.5" cy="2119.8" r="11.3"/><circle cx="1474.8" cy="2084.8" r="11.3"/><circle cx="1489.6" cy="2044.3" r="11.3"/><circle cx="1499.8" cy="2002.6" r="11.3"/><circle cx="1507.6" cy="1960.3" r="11.3"/><circle cx="1513.3" cy="1917.5" r="11.3"/><circle cx="1519" cy="1874.6" r="11.3"/><circle cx="1523.8" cy="1831.8" r="11.3"/><circle cx="1527.7" cy="1789" r="11.3"/><circle cx="1532.4" cy="1746.1" r="11.3"/><circle cx="1537.4" cy="1703.3" r="11.3"/><circle cx="1542.4" cy="1660.4" r="11.3"/><circle cx="1548.3" cy="1617.8" r="11.3"/><circle cx="1555.9" cy="1575.3" r="11.3"/><circle cx="1566.4" cy="1533.7" r="11.3"/><circle cx="1581.9" cy="1502.4" r="11.3"/></g>
<g fill="#0070c0"><rect x="316.2" y="2155" width="35.1" height="8.9" rx="3.4"/><rect x="376.75" y="2155" width="35.1" height="8.9" rx="3.4"/><rect x="437.3" y="2155" width="35.1" height="8.9" rx="3.4"/><rect x="497.85" y="2155" width="35.1" height="8.9" rx="3.4"/><rect x="558.4" y="2155" width="45" height="8.9" rx="3.4"/><rect x="568.3" y="2155" width="35.1" height="8.9" rx="3.4"/><rect x="628.85" y="2155" width="35.1" height="8.9" rx="3.4"/><rect x="689.4" y="2155" width="35.1" height="8.9" rx="3.4"/><rect x="749.95" y="2155" width="35.1" height="8.9" rx="3.4"/><rect x="810.5" y="2155" width="45" height="8.9" rx="3.4"/><rect x="820.4" y="2155" width="35.1" height="8.9" rx="3.4"/><rect x="880.95" y="2155" width="35.1" height="8.9" rx="3.4"/><rect x="941.5" y="2155" width="35.1" height="8.9" rx="3.4"/><rect x="1002.05" y="2155" width="35.1" height="8.9" rx="3.4"/><rect x="1062.6" y="2155" width="45" height="8.9" rx="3.4"/><rect x="1072.5" y="2155" width="35.1" height="8.9" rx="3.4"/><rect x="1133.05" y="2155" width="35.1" height="8.9" rx="3.4"/><rect x="1193.6" y="2155" width="35.1" height="8.9" rx="3.4"/><rect x="1254.15" y="2155" width="35.1" height="8.9" rx="3.4"/><rect x="1314.7" y="2155" width="45" height="8.9" rx="3.4"/><rect x="1324.6" y="2155" width="35.1" height="8.9" rx="3.4"/><rect x="1385.15" y="2155" width="35.1" height="8.9" rx="3.4"/><rect x="1445.7" y="2155" width="35.1" height="8.9" rx="3.4"/><rect x="1506.25" y="2155" width="35.1" height="8.9" rx="3.4"/><rect x="1566.8" y="2155" width="45" height="8.9" rx="3.4"/><rect x="1576.7" y="2155" width="35.1" height="8.9" rx="3.4"/></g>
</g>
<text transform="translate(175.54,1457.2) scale(1.03,1.075)" font-size="56">100</text>
<text transform="translate(204.38,1574.7) scale(1.03,1.075)" font-size="56">80</text>
<text transform="translate(204.38,1692.2) scale(1.03,1.075)" font-size="56">60</text>
<text transform="translate(204.38,1809.7) scale(1.03,1.075)" font-size="56">40</text>
<text transform="translate(204.38,1927.2) scale(1.03,1.075)" font-size="56">20</text>
<text transform="translate(233.22,2044.7) scale(1.03,1.075)" font-size="56">0</text>
<text transform="translate(172.45,2162.2) scale(1.03,1.075)" font-size="56"><tspan dy="3.2">−</tspan><tspan dy="-3.2">20</tspan></text>
<text transform="translate(172.45,2279.7) scale(1.03,1.075)" font-size="56"><tspan dy="3.2">−</tspan><tspan dy="-3.2">40</tspan></text>
<text transform="translate(172.45,2397.2) scale(1.03,1.075)" font-size="56"><tspan dy="3.2">−</tspan><tspan dy="-3.2">60</tspan></text>
<text transform="translate(251.3,2456.6) scale(1.025,1.07)" font-size="42">0.00001</text>
<text transform="translate(527.43,2456.6) scale(1.025,1.07)" font-size="42">0.001</text>
<text transform="translate(803.55,2456.6) scale(1.025,1.07)" font-size="42">0.1</text>
<text transform="translate(1062.25,2456.6) scale(1.025,1.07)" font-size="42">10</text>
<text transform="translate(1295.33,2456.6) scale(1.025,1.07)" font-size="42">1000</text>
<text transform="translate(1524.26,2456.6) scale(1.025,1.07)" font-size="42">100,000</text>
<text transform="translate(0,2534.1) scale(1,1.03)" font-size="56" font-weight="bold" stroke="#fff" stroke-width="0.9" paint-order="fill stroke"><tspan x="739.63" textLength="271.5" lengthAdjust="spacingAndGlyphs">Frequency</tspan> <tspan x="1029.84" textLength="147.54" lengthAdjust="spacingAndGlyphs">(kHz)</tspan></text>
<text transform="translate(151.2,2097.4) rotate(-90) scale(1,1.04)" font-size="56"><tspan x="-1.08" textLength="150.65" lengthAdjust="spacingAndGlyphs" font-weight="bold" stroke="#fff" stroke-width="0.9" paint-order="fill stroke">Phase</tspan> <tspan x="164.48" textLength="21.22" lengthAdjust="spacingAndGlyphs" font-weight="bold" stroke="#fff" stroke-width="0.9" paint-order="fill stroke">{</tspan><tspan x="186.54" textLength="43.01" lengthAdjust="spacingAndGlyphs" font-weight="bold" stroke="#fff" stroke-width="0.9" paint-order="fill stroke">Y</tspan><tspan x="228.24" textLength="38.63" lengthAdjust="spacingAndGlyphs" dy="13.65" font-size="38">IN</tspan><tspan x="267.42" textLength="20.73" lengthAdjust="spacingAndGlyphs" dy="-13.65" font-weight="bold" stroke="#fff" stroke-width="0.9" paint-order="fill stroke">}</tspan> <tspan x="301.42" textLength="132.08" lengthAdjust="spacingAndGlyphs" font-weight="bold" stroke="#fff" stroke-width="0.9" paint-order="fill stroke">(deg)</tspan></text>
<text transform="translate(0,2625) scale(1,1)" font-size="70"><tspan x="885.07" textLength="21.24" lengthAdjust="spacingAndGlyphs">(</tspan><tspan x="905.66" textLength="40.49" lengthAdjust="spacingAndGlyphs" font-weight="bold" stroke="#fff" stroke-width="0.9" paint-order="fill stroke">b</tspan><tspan x="947.1" textLength="20.98" lengthAdjust="spacingAndGlyphs">)</tspan></text>
</g>
</svg></body></html>
